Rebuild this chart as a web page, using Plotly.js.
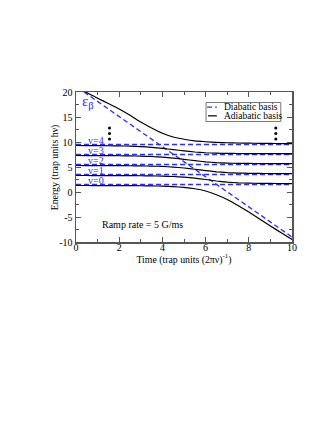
<!DOCTYPE html>
<html>
<head>
<meta charset="utf-8">
<script src="https://cdn.plot.ly/plotly-3.0.1.min.js"></script>
<style>
  html, body { margin: 0; padding: 0; background: #fff; }
  #plot { width: 332px; height: 430px; }
</style>
</head>
<body>
<div id="plot"></div>
<script>
// time grid, trap units (2 pi nu)^-1
const times = [0, 0.5, 1, 1.5, 2, 2.5, 3, 3.5, 4, 4.5, 5, 5.5, 6, 6.5, 7, 7.5, 8, 8.5, 9, 9.5, 10];

// diabatic trap levels v=0..4 and the bound state eps_beta
const levelNames = ['v=0', 'v=1', 'v=2', 'v=3', 'v=4'];
const levelEnergies = [1.5, 3.5, 5.5, 7.5, 9.5];
const boundT = [0.37, 10];
const boundE = [20, -9.0];

// adiabatic curves
const adiab0 = [1.3, 1.3, 1.29, 1.29, 1.28, 1.27, 1.25, 1.22, 1.17, 1.08, 0.92, 0.65, 0.2, -0.55, -1.5, -2.7, -4.0, -5.4, -6.8, -8.15, -9.5];
const adiab1 = [3.3, 3.3, 3.29, 3.29, 3.28, 3.27, 3.25, 3.22, 3.17, 3.1, 2.97, 2.77, 2.5, 2.2, 1.97, 1.84, 1.77, 1.73, 1.71, 1.69, 1.68];
const adiab2 = [5.3, 5.29, 5.29, 5.28, 5.27, 5.25, 5.22, 5.18, 5.11, 4.99, 4.8, 4.55, 4.28, 4.04, 3.88, 3.79, 3.74, 3.71, 3.69, 3.68, 3.67];
const adiab3 = [7.3, 7.29, 7.28, 7.27, 7.25, 7.22, 7.18, 7.1, 6.97, 6.78, 6.53, 6.27, 6.03, 5.87, 5.78, 5.73, 5.71, 5.69, 5.68, 5.67, 5.67];
const adiab4 = [9.3, 9.29, 9.27, 9.25, 9.22, 9.17, 9.08, 8.93, 8.72, 8.47, 8.22, 8.0, 7.85, 7.76, 7.72, 7.7, 7.69, 7.68, 7.68, 7.67, 7.67];
const adiab5 = [21.35, 19.9, 18.75, 17.7, 16.6, 15.35, 14.0, 12.8, 11.75, 11.0, 10.55, 10.22, 10.05, 9.93, 9.85, 9.8, 9.76, 9.73, 9.71, 9.69, 9.68];
const adiabatic = [adiab0, adiab1, adiab2, adiab3, adiab4, adiab5];

// the vertical ellipsis dots
const dotsT = [1.55, 1.55, 1.55, 9.25, 9.25, 9.25];
const dotsE = [12.8, 11.7, 10.6, 12.8, 11.7, 10.6];

const xTicks = [0, 2, 4, 6, 8, 10];
const yTicks = [-10, -5, 0, 5, 10, 15, 20];
const yTickText = ['-10', '-5', '0', '5', '10', '15', '20'];

const BLUE = 'rgb(45,45,245)';
const FONT = 'Liberation Serif, Times New Roman, serif';

const traces = [];

levelEnergies.forEach(E => {
  traces.push({
    type: 'scatter', mode: 'lines',
    x: [0, 10], y: [E, E],
    line: { color: BLUE, width: 1.3, dash: '5px,3px' },
    showlegend: false, hoverinfo: 'skip'
  });
});

traces.push({
  type: 'scatter', mode: 'lines',
  x: boundT, y: boundE,
  line: { color: BLUE, width: 1.3, dash: '5px,3px' },
  showlegend: false
});

adiabatic.forEach(curve => {
  traces.push({
    type: 'scatter', mode: 'lines',
    x: times, y: curve,
    line: { color: 'black', width: 1.2, shape: 'spline', smoothing: 0.4 },
    showlegend: false
  });
});

traces.push({
  type: 'scatter', mode: 'markers',
  x: dotsT, y: dotsE,
  marker: { color: 'black', size: 3 },
  showlegend: false
});

const annotations = levelNames.map((name, i) => ({
  x: 0.48, y: levelEnergies[i] + 0.8, xref: 'x', yref: 'y',
  text: name, showarrow: false, xanchor: 'left', yanchor: 'middle',
  font: { family: FONT, size: 10, color: BLUE }
}));

annotations.push({
  x: 0.55, y: 18.0, xref: 'x', yref: 'y',
  text: 'ε<sub>β</sub>', showarrow: false, xanchor: 'center', yanchor: 'middle',
  font: { family: FONT, size: 15, color: BLUE }
});

annotations.push({
  x: 3.1, y: -6.4, xref: 'x', yref: 'y',
  text: 'Ramp rate = 5 G/ms', showarrow: false, xanchor: 'center', yanchor: 'middle',
  font: { family: FONT, size: 10, color: 'black' }
});

// y axis title, placed by hand so it can sit close to the tick labels
annotations.push({
  x: -0.096, y: 0.5, xref: 'paper', yref: 'paper',
  text: 'Energy (trap units hν)', showarrow: false, textangle: -90,
  xanchor: 'center', yanchor: 'middle',
  font: { family: FONT, size: 9.8, color: 'black' }
});

// hand-built legend box
annotations.push({
  x: 0.676, y: 0.901, xref: 'paper', yref: 'paper',
  text: 'Diabatic basis', showarrow: false, xanchor: 'left', yanchor: 'middle',
  font: { family: FONT, size: 9.5, color: 'black' }
});
annotations.push({
  x: 0.676, y: 0.839, xref: 'paper', yref: 'paper',
  text: 'Adiabatic basis', showarrow: false, xanchor: 'left', yanchor: 'middle',
  font: { family: FONT, size: 9.5, color: 'black' }
});

const shapes = [
  { type: 'rect', xref: 'paper', yref: 'paper', x0: 0.602, x1: 0.948, y0: 0.803, y1: 0.930,
    line: { color: '#777', width: 1 }, fillcolor: 'white' },
  { type: 'line', xref: 'paper', yref: 'paper', x0: 0.607, x1: 0.652, y0: 0.899, y1: 0.899,
    line: { color: BLUE, width: 1.3, dash: '5px,3px' } },
  { type: 'line', xref: 'paper', yref: 'paper', x0: 0.611, x1: 0.652, y0: 0.841, y1: 0.841,
    line: { color: 'black', width: 1.2 } }
];

const axisCommon = {
  showgrid: false, zeroline: false,
  showline: true, linecolor: '#555', linewidth: 1.5, mirror: 'ticks',
  ticks: 'inside', ticklen: 5, tickwidth: 1, tickcolor: '#555',
  tickfont: { family: FONT, size: 10, color: 'black' },
  fixedrange: true
};

const layout = {
  width: 332, height: 430,
  margin: { l: 76, r: 40, t: 92, b: 188 },
  paper_bgcolor: 'white', plot_bgcolor: 'white',
  font: { family: FONT, color: 'black' },
  showlegend: false,
  xaxis: Object.assign({}, axisCommon, {
    range: [0, 10],
    tickmode: 'array', tickvals: xTicks,
    ticklabelstandoff: -5,
    minor: { dtick: 1, ticks: 'inside', ticklen: 3, tickcolor: '#555' },
    title: { text: 'Time (trap units (2πν)<sup>-1</sup>)', font: { family: FONT, size: 9.8 }, standoff: 4 }
  }),
  yaxis: Object.assign({}, axisCommon, {
    range: [-10, 20],
    tickmode: 'array', tickvals: yTicks, ticktext: yTickText,
    minor: { dtick: 2.5, ticks: 'inside', ticklen: 3, tickcolor: '#555' }
  }),
  annotations: annotations,
  shapes: shapes
};

Plotly.newPlot('plot', traces, layout, { displayModeBar: false, staticPlot: true });
</script>
</body>
</html>
